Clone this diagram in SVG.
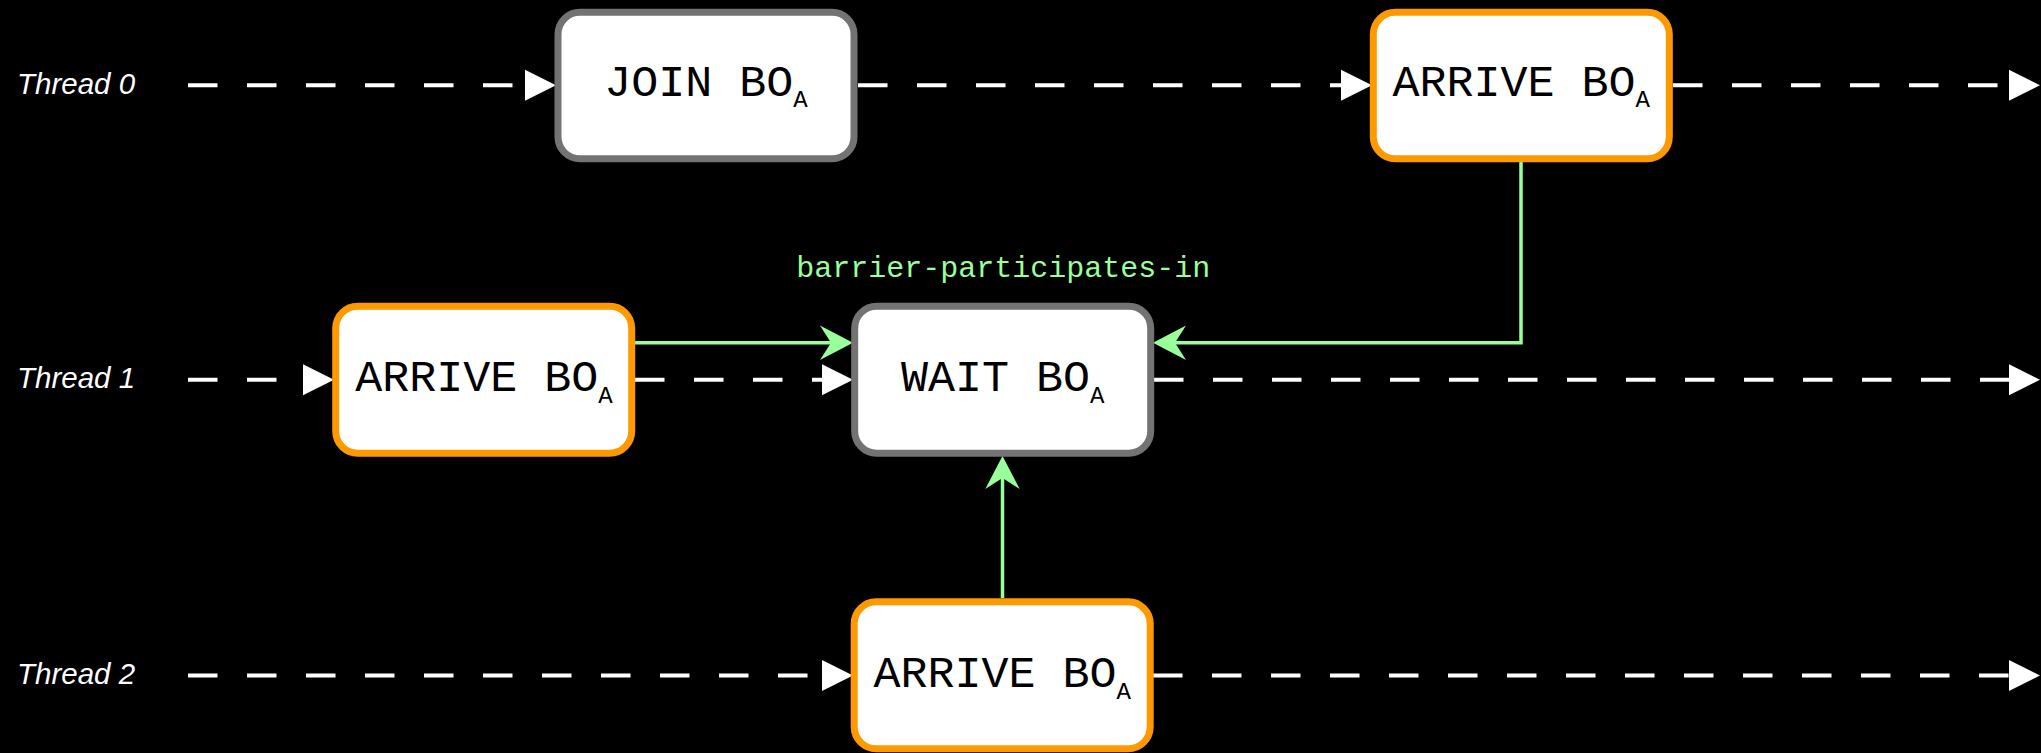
<svg xmlns="http://www.w3.org/2000/svg" width="2041" height="753" viewBox="0 0 2041 753">
<style>
.bg{fill:#000}
.box{fill:#fff;stroke-width:7}
.gray{stroke:#737373}
.orange{stroke:#ff9900}
.lbl{font-family:"Liberation Mono","Courier New",monospace;font-size:45px;fill:#000;text-anchor:middle}
.sub{font-size:24px}
.thread{font-family:"Liberation Sans",Arial,sans-serif;font-style:italic;font-size:29.5px;fill:#fff}
.flow{stroke:#fff;stroke-width:4;stroke-dasharray:29.5 29.5;fill:none}
.ah{fill:#fff}
.rel{stroke:#99ff99;stroke-width:3.5;fill:none}
.gh{fill:#99ff99}
.rlbl{font-family:"Liberation Mono","Courier New",monospace;font-size:30px;fill:#99ff99;text-anchor:middle}
</style>
<rect class="bg" x="0" y="0" width="2041" height="753"/>
<g id="thread-labels">
<text class="thread" x="17" y="93.5">Thread 0</text>
<text class="thread" x="17" y="387.9">Thread 1</text>
<text class="thread" x="17" y="683.7">Thread 2</text>
</g>
<g id="connectors">
<path class="flow" d="M188 85.3H526"/>
<polygon class="ah" points="525,69.8 556,85.3 525,100.8"/>
<path class="flow" d="M858 85.3H1341"/>
<polygon class="ah" points="1341,69.8 1372,85.3 1341,100.8"/>
<path class="flow" d="M1673 85.3H2010"/>
<polygon class="ah" points="2009,69.8 2040,85.3 2009,100.8"/>
<path class="flow" d="M188 379.7H303"/>
<polygon class="ah" points="303,364.2 334,379.7 303,395.2"/>
<path class="flow" d="M635 379.7H822"/>
<polygon class="ah" points="822,364.2 853,379.7 822,395.2"/>
<path class="flow" d="M1154 379.7H2010"/>
<polygon class="ah" points="2009,364.2 2040,379.7 2009,395.2"/>
<path class="flow" d="M188 675.5H822"/>
<polygon class="ah" points="822,660 853,675.5 822,691"/>
<path class="flow" d="M1153 675.5H2010"/>
<polygon class="ah" points="2009,660 2040,675.5 2009,691"/>
<path class="rel" d="M635 342.7H832"/>
<polygon class="gh" points="853,342.7 820,325.5 831,342.7 820,359.9"/>
<path class="rel" d="M1521 162V342.7H1175"/>
<polygon class="gh" points="1153,342.7 1186,325.5 1175,342.7 1186,359.9"/>
<path class="rel" d="M1002.5 598V478"/>
<polygon class="gh" points="1002.5,456 985.3,489 1002.5,478 1019.7,489"/>
<text class="rlbl" x="1003.3" y="277.3">barrier-participates-in</text>
</g>
<g id="join0">
<rect class="box gray" x="558" y="12.3" width="296" height="146.5" rx="22"/>
<text class="lbl" x="706" y="95.5">JOIN BO<tspan class="sub" dy="11.5">A</tspan></text>
</g>
<g id="arrive0">
<rect class="box orange" x="1373.3" y="12.3" width="296" height="146.5" rx="22"/>
<text class="lbl" x="1521.3" y="95.5">ARRIVE BO<tspan class="sub" dy="11.5">A</tspan></text>
</g>
<g id="arrive1">
<rect class="box orange" x="335.7" y="306.2" width="296" height="147" rx="22"/>
<text class="lbl" x="484" y="391">ARRIVE BO<tspan class="sub" dy="11.5">A</tspan></text>
</g>
<g id="wait1">
<rect class="box gray" x="854.7" y="306.2" width="296" height="147" rx="22"/>
<text class="lbl" x="1002.7" y="391">WAIT BO<tspan class="sub" dy="11.5">A</tspan></text>
</g>
<g id="arrive2">
<rect class="box orange" x="854.2" y="601.8" width="296" height="147" rx="22"/>
<text class="lbl" x="1002.2" y="687">ARRIVE BO<tspan class="sub" dy="11.5">A</tspan></text>
</g>
</svg>
